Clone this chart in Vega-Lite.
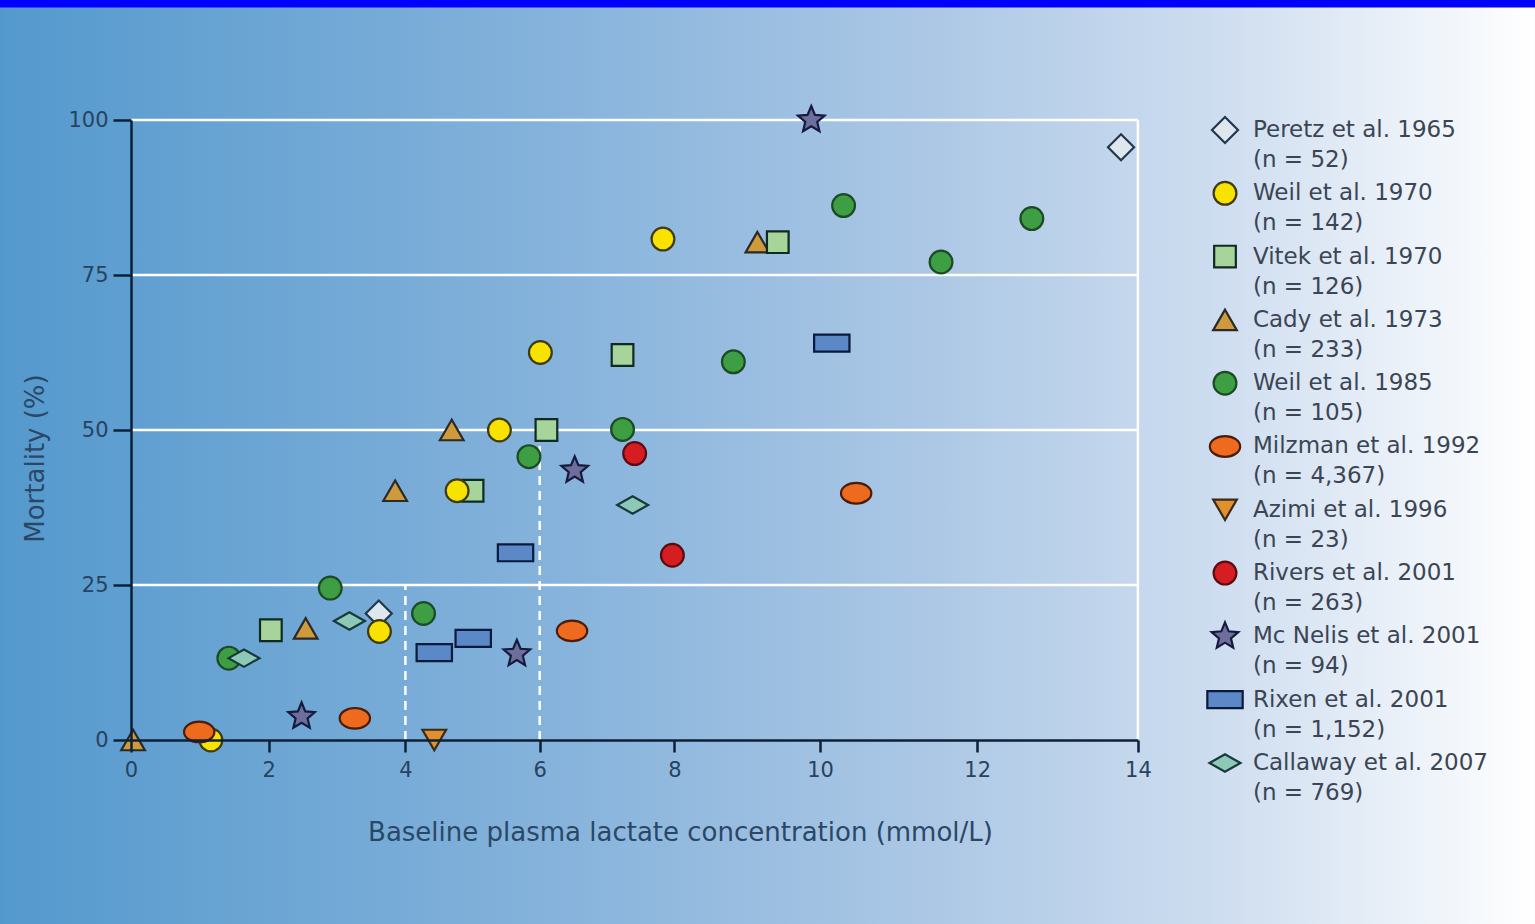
{
  "$schema": "https://vega.github.io/schema/vega-lite/v6.json",
  "width": 1007,
  "height": 620,
  "autosize": {"type": "none"},
  "padding": {"left": 131, "top": 120, "right": 397, "bottom": 184},
  "background": "#0000ff",
  "config": {
    "font": "DejaVu Sans",
    "view": {"stroke": null},
    "axis": {
      "grid": false,
      "domainColor": "#0d2038",
      "domainWidth": 2.5,
      "tickColor": "#0d2038",
      "tickWidth": 2.5,
      "labelFont": "DejaVu Sans",
      "labelColor": "#27435f",
      "labelFlush": false,
      "titleFont": "DejaVu Sans",
      "titleFontSize": 26,
      "titleFontWeight": "normal",
      "titleColor": "#2b4766"
    }
  },
  "datasets": {
    "points": [
      {"study": "Peretz et al. 1965", "lactate": 13.79, "mortality": 95.6},
      {"study": "Peretz et al. 1965", "lactate": 3.61, "mortality": 20.4},
      {"study": "Cady et al. 1973", "lactate": 9.14, "mortality": 80.3},
      {"study": "Cady et al. 1973", "lactate": 4.69, "mortality": 50},
      {"study": "Cady et al. 1973", "lactate": 3.85, "mortality": 40.2},
      {"study": "Cady et al. 1973", "lactate": 2.54, "mortality": 18.0},
      {"study": "Cady et al. 1973", "lactate": 0.03, "mortality": 0},
      {"study": "Vitek et al. 1970", "lactate": 9.42, "mortality": 80.3},
      {"study": "Vitek et al. 1970", "lactate": 7.23, "mortality": 62.1},
      {"study": "Vitek et al. 1970", "lactate": 6.10, "mortality": 50},
      {"study": "Vitek et al. 1970", "lactate": 5.0, "mortality": 40.2},
      {"study": "Vitek et al. 1970", "lactate": 2.03, "mortality": 17.7},
      {"study": "Weil et al. 1970", "lactate": 7.83, "mortality": 80.8},
      {"study": "Weil et al. 1970", "lactate": 6.01, "mortality": 62.5},
      {"study": "Weil et al. 1970", "lactate": 5.40, "mortality": 50},
      {"study": "Weil et al. 1970", "lactate": 4.77, "mortality": 40.2},
      {"study": "Weil et al. 1970", "lactate": 3.62, "mortality": 17.5},
      {"study": "Weil et al. 1970", "lactate": 1.16, "mortality": 0},
      {"study": "Weil et al. 1985", "lactate": 10.30, "mortality": 86.2},
      {"study": "Weil et al. 1985", "lactate": 12.68, "mortality": 84.1},
      {"study": "Weil et al. 1985", "lactate": 11.54, "mortality": 77.1},
      {"study": "Weil et al. 1985", "lactate": 8.81, "mortality": 61.0},
      {"study": "Weil et al. 1985", "lactate": 7.23, "mortality": 50.1},
      {"study": "Weil et al. 1985", "lactate": 5.84, "mortality": 45.7},
      {"study": "Weil et al. 1985", "lactate": 2.90, "mortality": 24.5},
      {"study": "Weil et al. 1985", "lactate": 4.27, "mortality": 20.4},
      {"study": "Weil et al. 1985", "lactate": 1.42, "mortality": 13.2},
      {"study": "Milzman et al. 1992", "lactate": 10.46, "mortality": 39.8},
      {"study": "Milzman et al. 1992", "lactate": 6.48, "mortality": 17.6},
      {"study": "Milzman et al. 1992", "lactate": 3.26, "mortality": 3.5},
      {"study": "Milzman et al. 1992", "lactate": 0.99, "mortality": 1.3},
      {"study": "Azimi et al. 1996", "lactate": 4.43, "mortality": 0},
      {"study": "Rivers et al. 2001", "lactate": 7.41, "mortality": 46.2},
      {"study": "Rivers et al. 2001", "lactate": 7.97, "mortality": 29.8},
      {"study": "Mc Nelis et al. 2001", "lactate": 9.88, "mortality": 100},
      {"study": "Mc Nelis et al. 2001", "lactate": 6.52, "mortality": 43.5},
      {"study": "Mc Nelis et al. 2001", "lactate": 5.66, "mortality": 13.9},
      {"study": "Mc Nelis et al. 2001", "lactate": 2.48, "mortality": 3.8},
      {"study": "Rixen et al. 2001", "lactate": 10.15, "mortality": 64.0},
      {"study": "Rixen et al. 2001", "lactate": 5.64, "mortality": 30.2},
      {"study": "Rixen et al. 2001", "lactate": 5.01, "mortality": 16.4},
      {"study": "Rixen et al. 2001", "lactate": 4.43, "mortality": 14.1},
      {"study": "Callaway et al. 2007", "lactate": 7.38, "mortality": 37.9},
      {"study": "Callaway et al. 2007", "lactate": 3.18, "mortality": 19.2},
      {"study": "Callaway et al. 2007", "lactate": 1.64, "mortality": 13.2}
    ],
    "studies": [
      {"order": 1, "study": "Peretz et al. 1965", "n": "(n = 52)"},
      {"order": 2, "study": "Weil et al. 1970", "n": "(n = 142)"},
      {"order": 3, "study": "Vitek et al. 1970", "n": "(n = 126)"},
      {"order": 4, "study": "Cady et al. 1973", "n": "(n = 233)"},
      {"order": 5, "study": "Weil et al. 1985", "n": "(n = 105)"},
      {"order": 6, "study": "Milzman et al. 1992", "n": "(n = 4,367)"},
      {"order": 7, "study": "Azimi et al. 1996", "n": "(n = 23)"},
      {"order": 8, "study": "Rivers et al. 2001", "n": "(n = 263)"},
      {"order": 9, "study": "Mc Nelis et al. 2001", "n": "(n = 94)"},
      {"order": 10, "study": "Rixen et al. 2001", "n": "(n = 1,152)"},
      {"order": 11, "study": "Callaway et al. 2007", "n": "(n = 769)"}
    ]
  },
  "layer": [
    {
      "layer": [
        {
          "data": {"values": [{}]},
          "mark": {
            "type": "rect",
            "fill": {
              "gradient": "linear",
              "x1": 0, "y1": 0, "x2": 1, "y2": 0,
              "stops": [
                {"offset": 0, "color": "#5499cd"},
                {"offset": 0.35, "color": "#84b2db"},
                {"offset": 0.6, "color": "#abc7e5"},
                {"offset": 0.8, "color": "#cfdef0"},
                {"offset": 1, "color": "#ffffff"}
              ]
            }
          },
          "encoding": {
            "x": {"datum": -1.901},
            "x2": {"datum": 18.942},
            "y": {"datum": 118.15},
            "y2": {"datum": -40}
          }
        },
        {
          "data": {"values": [{}]},
          "mark": {"type": "rule", "color": "#ffffff", "strokeWidth": 2.5},
          "encoding": {"y": {"datum": 25}}
        },
        {
          "data": {"values": [{}]},
          "mark": {"type": "rule", "color": "#ffffff", "strokeWidth": 2.5},
          "encoding": {"y": {"datum": 50}}
        },
        {
          "data": {"values": [{}]},
          "mark": {"type": "rule", "color": "#ffffff", "strokeWidth": 2.5},
          "encoding": {"y": {"datum": 75}}
        },
        {
          "data": {"values": [{}]},
          "mark": {"type": "rule", "color": "#ffffff", "strokeWidth": 2.5},
          "encoding": {"y": {"datum": 100}}
        },
        {
          "data": {"values": [{}]},
          "mark": {"type": "rule", "color": "#ffffff", "strokeWidth": 2.5},
          "encoding": {"x": {"datum": 14}, "y": {"datum": 0}, "y2": {"datum": 100}}
        },
        {
          "data": {"values": [{}]},
          "mark": {"type": "rule", "color": "#ffffff", "strokeWidth": 2.5, "strokeDash": [9, 6]},
          "encoding": {"x": {"datum": 4}, "y": {"datum": 0}, "y2": {"datum": 25}}
        },
        {
          "data": {"values": [{}]},
          "mark": {"type": "rule", "color": "#ffffff", "strokeWidth": 2.5, "strokeDash": [9, 6]},
          "encoding": {"x": {"datum": 6}, "y": {"datum": 0}, "y2": {"datum": 50}}
        },
        {
          "data": {"name": "points"},
          "mark": {"type": "point", "filled": true, "opacity": 1, "strokeWidth": 2.2},
          "encoding": {
            "x": {
              "field": "lactate",
              "type": "quantitative",
              "scale": {
                "domain": [0, 2, 4, 6, 8, 10, 12, 14],
                "range": [0, 137.8, 274.4, 408.7, 543.4, 689, 846.2, 1006.9],
                "nice": false,
                "zero": false
              },
              "axis": {
                "zindex": 2,
                "values": [0, 2, 4, 6, 8, 10, 12, 14],
                "format": "d",
                "tickSize": 12,
                "labelPadding": 7,
                "labelFontSize": 21,
                "title": "Baseline plasma lactate concentration (mmol/L)",
                "titleX": 549,
                "titleY": 92,
                "titleAlign": "center",
                "titleBaseline": "middle"
              }
            },
            "y": {
              "field": "mortality",
              "type": "quantitative",
              "scale": {"domain": [0, 100], "nice": false},
              "axis": {
                "zindex": 2,
                "values": [0, 25, 50, 75, 100],
                "format": "d",
                "tickSize": 18,
                "labelPadding": 5,
                "labelFontSize": 21,
                "title": "Mortality (%)",
                "titleX": -96,
                "titleY": 338,
                "titleAngle": -90,
                "titleAlign": "center",
                "titleBaseline": "middle"
              }
            },
            "shape": {
              "field": "study",
              "type": "nominal",
              "legend": null,
              "scale": {
                "domain": ["Peretz et al. 1965", "Weil et al. 1970", "Vitek et al. 1970", "Cady et al. 1973", "Weil et al. 1985", "Milzman et al. 1992", "Azimi et al. 1996", "Rivers et al. 2001", "Mc Nelis et al. 2001", "Rixen et al. 2001", "Callaway et al. 2007"],
                "range": [
                  "diamond",
                  "circle",
                  "square",
                  "triangle-up",
                  "circle",
                  "M-1,0A1,0.68,0,1,1,1,0A1,0.68,0,1,1,-1,0Z",
                  "triangle-down",
                  "circle",
                  "M0,-1L0.265,-0.364L0.951,-0.309L0.428,0.139L0.588,0.809L0,0.45L-0.588,0.809L-0.428,0.139L-0.951,-0.309L-0.265,-0.364Z",
                  "M-1,-0.48H1V0.48H-1Z",
                  "M-1,0L0,-0.56L1,0L0,0.56Z"
                ]
              }
            },
            "fill": {
              "field": "study",
              "type": "nominal",
              "legend": null,
              "scale": {
                "domain": ["Peretz et al. 1965", "Weil et al. 1970", "Vitek et al. 1970", "Cady et al. 1973", "Weil et al. 1985", "Milzman et al. 1992", "Azimi et al. 1996", "Rivers et al. 2001", "Mc Nelis et al. 2001", "Rixen et al. 2001", "Callaway et al. 2007"],
                "range": ["#dfe7ee", "#f7e200", "#a6d49a", "#cf9a3c", "#3e9e44", "#ee6a1e", "#e0902e", "#d61e22", "#6e6e9c", "#5b88c6", "#8ec9b7"]
              }
            },
            "stroke": {
              "field": "study",
              "type": "nominal",
              "legend": null,
              "scale": {
                "domain": ["Peretz et al. 1965", "Weil et al. 1970", "Vitek et al. 1970", "Cady et al. 1973", "Weil et al. 1985", "Milzman et al. 1992", "Azimi et al. 1996", "Rivers et al. 2001", "Mc Nelis et al. 2001", "Rixen et al. 2001", "Callaway et al. 2007"],
                "range": ["#22384c", "#3d3a12", "#0f2a22", "#2a2a28", "#1b4a24", "#4a1c0a", "#3a2a18", "#5a0c10", "#161a3c", "#0a1a3c", "#163a3a"]
              }
            },
            "size": {
              "field": "study",
              "type": "nominal",
              "legend": null,
              "scale": {
                "type": "ordinal",
                "domain": ["Peretz et al. 1965", "Weil et al. 1970", "Vitek et al. 1970", "Cady et al. 1973", "Weil et al. 1985", "Milzman et al. 1992", "Azimi et al. 1996", "Rivers et al. 2001", "Mc Nelis et al. 2001", "Rixen et al. 2001", "Callaway et al. 2007"],
                "range": [680, 520, 470, 560, 520, 920, 560, 520, 780, 1250, 960]
              }
            }
          }
        }
      ]
    },
    {
      "data": {"name": "studies"},
      "layer": [
        {
          "mark": {"type": "point", "filled": true, "opacity": 1, "strokeWidth": 2.2},
          "encoding": {
            "x": {"datum": 15.084},
            "y": {
              "field": "order",
              "type": "quantitative",
              "scale": {"domain": [0.842, 10.637], "reverse": true, "nice": false, "zero": false},
              "axis": null
            },
            "shape": {"field": "study", "type": "nominal", "legend": null},
            "fill": {"field": "study", "type": "nominal", "legend": null},
            "stroke": {"field": "study", "type": "nominal", "legend": null},
            "size": {
              "field": "study",
              "type": "nominal",
              "legend": null,
              "scale": {
                "type": "ordinal",
                "domain": ["Peretz et al. 1965", "Weil et al. 1970", "Vitek et al. 1970", "Cady et al. 1973", "Weil et al. 1985", "Milzman et al. 1992", "Azimi et al. 1996", "Rivers et al. 2001", "Mc Nelis et al. 2001", "Rixen et al. 2001", "Callaway et al. 2007"],
                "range": [680, 520, 470, 560, 520, 920, 560, 520, 780, 1250, 960]
              }
            }
          }
        },
        {
          "mark": {"type": "text", "align": "left", "baseline": "middle", "fontSize": 23, "color": "#3b4553"},
          "encoding": {
            "x": {"datum": 15.432},
            "y": {"field": "order", "type": "quantitative", "axis": null},
            "text": {"field": "study"}
          }
        },
        {
          "mark": {"type": "text", "align": "left", "baseline": "middle", "fontSize": 23, "dy": 30, "color": "#3b4553"},
          "encoding": {
            "x": {"datum": 15.432},
            "y": {"field": "order", "type": "quantitative", "axis": null},
            "text": {"field": "n"}
          }
        }
      ]
    }
  ],
  "resolve": {"scale": {"y": "independent"}}
}
